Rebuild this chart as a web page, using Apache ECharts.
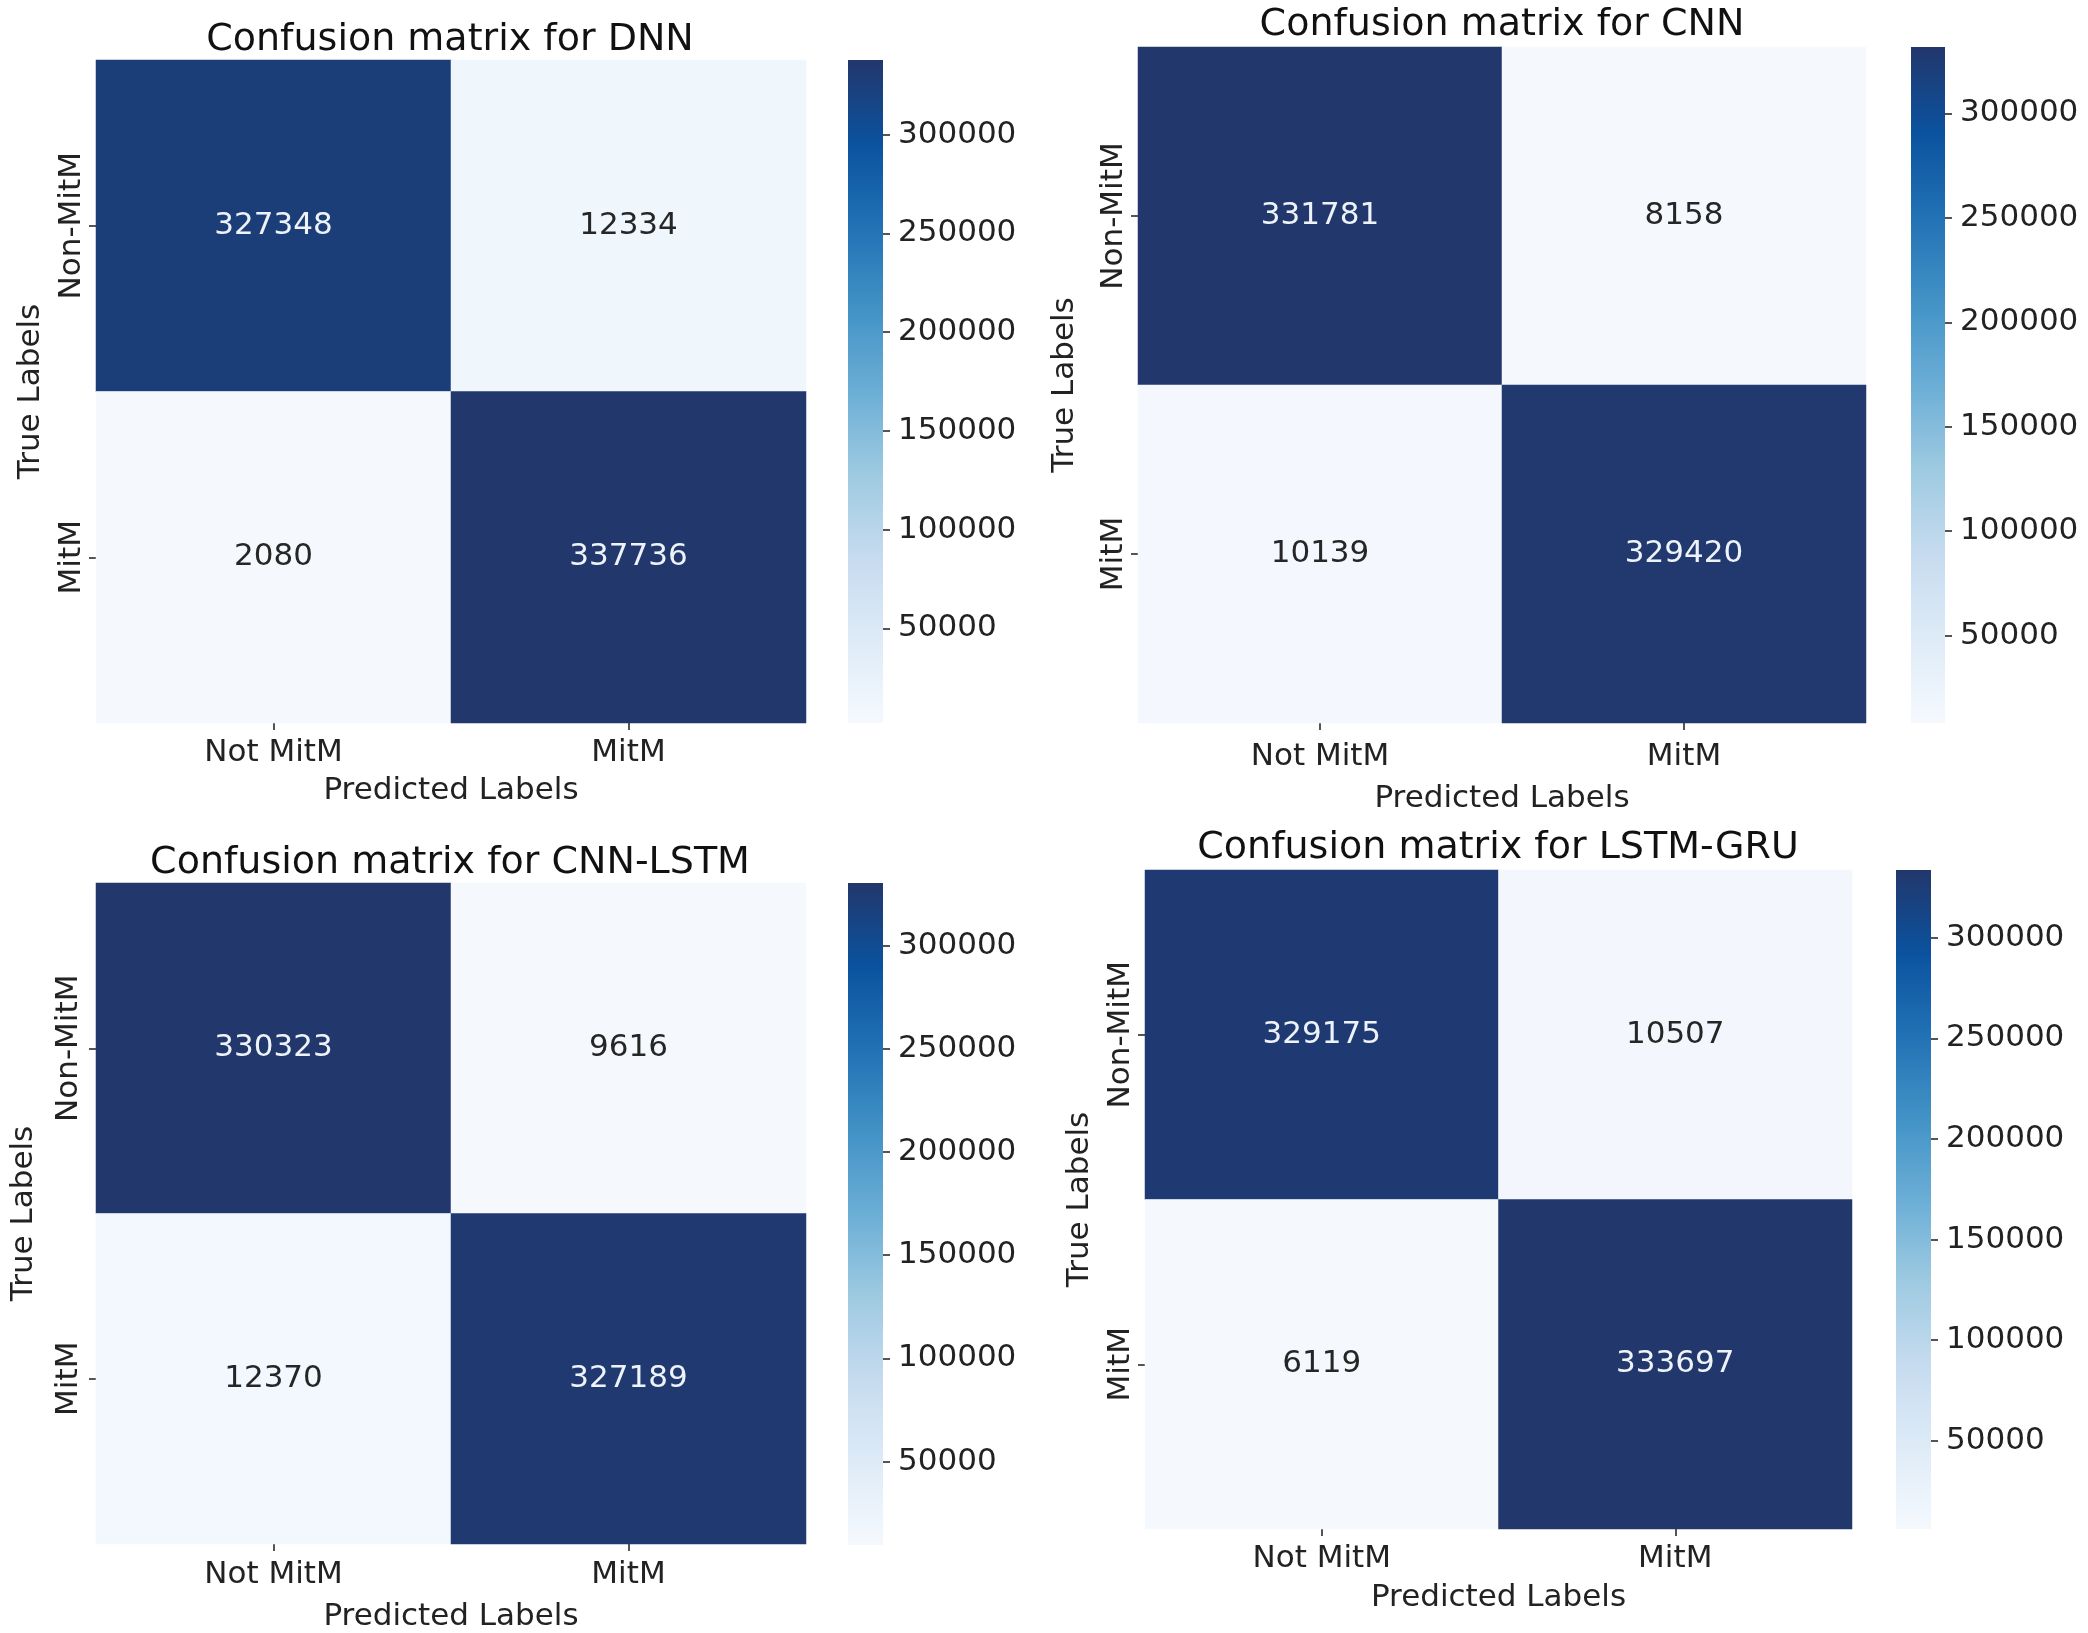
<!DOCTYPE html>
<html>
<head>
<meta charset="utf-8">
<script src="https://cdn.jsdelivr.net/npm/echarts@6/dist/echarts.min.js"></script>
<style>
html,body{margin:0;padding:0;background:#fff;}
#chart{width:2088px;height:1633px;}
</style>
</head>
<body>
<div id="chart"></div>
<script>
// ---- data ----
const predictedLabels = ['Not MitM', 'MitM'];
const trueLabels = ['Non-MitM', 'MitM'];
const modelNames = ['DNN', 'CNN', 'CNN-LSTM', 'LSTM-GRU'];
const dnnMatrix = [[327348, 12334], [2080, 337736]];
const cnnMatrix = [[331781, 8158], [10139, 329420]];
const cnnLstmMatrix = [[330323, 9616], [12370, 327189]];
const lstmGruMatrix = [[329175, 10507], [6119, 333697]];
const colorbarTicks = [50000, 100000, 150000, 200000, 250000, 300000];

// ---- styling / layout ----
const FONT = 'DejaVu Sans';
const FS = 31;
const blues = ['#f5f9fe', '#deebf7', '#c6dbef', '#9ecae1', '#6baed6', '#4292c6', '#2171b5', '#0b529e', '#22376c'];

const matrices = [dnnMatrix, cnnMatrix, cnnLstmMatrix, lstmGruMatrix];
const layouts = [
  {grid:{left:96, top:60, width:710, height:663}, cb:{left:848, top:60, width:35, height:663}, tx:450, ty:40, xm:14, xg:52, ym:9, yg:50},
  {grid:{left:1138, top:47, width:728, height:676}, cb:{left:1911, top:47, width:34, height:676}, tx:1502, ty:25, xm:18, xg:60, ym:9, yg:58},
  {grid:{left:96, top:883, width:710, height:662}, cb:{left:848, top:883, width:35, height:662}, tx:450, ty:863, xm:15, xg:57, ym:12, yg:57},
  {grid:{left:1145, top:870, width:707, height:659}, cb:{left:1896, top:870, width:35, height:659}, tx:1498, ty:848, xm:14, xg:53, ym:9, yg:50}
];

const grids = [], xAxes = [], yAxes = [], series = [], visualMaps = [], graphics = [];

matrices.forEach((m, i) => {
  const L = layouts[i];
  const flat = m.flat();
  const vmin = Math.min(...flat), vmax = Math.max(...flat);
  const mid = (vmin + vmax) / 2;

  // heatmap grid
  grids.push(L.grid);
  const hx = xAxes.length;
  xAxes.push({
    gridIndex: grids.length - 1, type: 'category', data: predictedLabels,
    axisLine: {show: false},
    axisTick: {show: true, alignWithLabel: true, length: 7, lineStyle: {color: '#555', width: 2}},
    axisLabel: {fontSize: FS, fontFamily: FONT, color: '#222', margin: L.xm},
    splitLine: {show: false},
    name: 'Predicted Labels', nameLocation: 'middle', nameGap: L.xg,
    nameTextStyle: {fontSize: FS, fontFamily: FONT, color: '#222'}
  });
  yAxes.push({
    gridIndex: grids.length - 1, type: 'category', data: trueLabels, inverse: true,
    axisLine: {show: false},
    axisTick: {show: true, alignWithLabel: true, length: 7, lineStyle: {color: '#555', width: 2}},
    axisLabel: {fontSize: FS, fontFamily: FONT, color: '#222', rotate: 90, margin: L.ym},
    splitLine: {show: false},
    name: 'True Labels', nameLocation: 'middle', nameGap: L.yg, nameRotate: 90,
    nameTextStyle: {fontSize: FS, fontFamily: FONT, color: '#222'}
  });
  const data = [];
  m.forEach((row, r) => row.forEach((v, c) => {
    data.push({value: [c, r, v], label: {color: v > mid ? '#eef3fa' : '#262626'}});
  }));
  series.push({
    type: 'heatmap', xAxisIndex: hx, yAxisIndex: hx, data: data,
    label: {show: true, fontSize: FS, fontFamily: FONT},
    emphasis: {disabled: true}
  });
  visualMaps.push({
    show: false, type: 'continuous', seriesIndex: series.length - 1,
    min: vmin, max: vmax, inRange: {color: blues}
  });

  // colorbar grid
  grids.push(L.cb);
  const cx = xAxes.length;
  xAxes.push({gridIndex: grids.length - 1, type: 'category', data: [''], show: false});
  yAxes.push({
    gridIndex: grids.length - 1, type: 'value', position: 'right', min: vmin, max: vmax,
    axisLine: {show: false},
    splitLine: {show: false},
    axisTick: {show: true, length: 7, lineStyle: {color: '#555', width: 2}, customValues: colorbarTicks},
    axisLabel: {fontSize: FS, fontFamily: FONT, color: '#222', margin: 15, customValues: colorbarTicks,
      formatter: v => String(Math.round(v))}
  });
  series.push({
    type: 'bar', xAxisIndex: cx, yAxisIndex: cx, stack: 'cb' + i, barWidth: '100%',
    data: [vmin], itemStyle: {color: 'rgba(0,0,0,0)'}, silent: true
  });
  series.push({
    type: 'bar', xAxisIndex: cx, yAxisIndex: cx, stack: 'cb' + i, barWidth: '100%',
    data: [vmax - vmin], silent: true,
    itemStyle: {color: {type: 'linear', x: 0, y: 1, x2: 0, y2: 0,
      colorStops: blues.map((c, k) => ({offset: k / (blues.length - 1), color: c}))}}
  });

  graphics.push({
    type: 'text', x: L.tx, y: L.ty,
    style: {text: 'Confusion matrix for ' + modelNames[i], font: '38px "DejaVu Sans"', fill: '#111', align: 'center', verticalAlign: 'middle'}
  });
});

const chart = echarts.init(document.getElementById('chart'));
chart.setOption({
  backgroundColor: '#fff',
  animation: false,
  grid: grids, xAxis: xAxes, yAxis: yAxes, series: series,
  visualMap: visualMaps, graphic: graphics
});
</script>
</body>
</html>
